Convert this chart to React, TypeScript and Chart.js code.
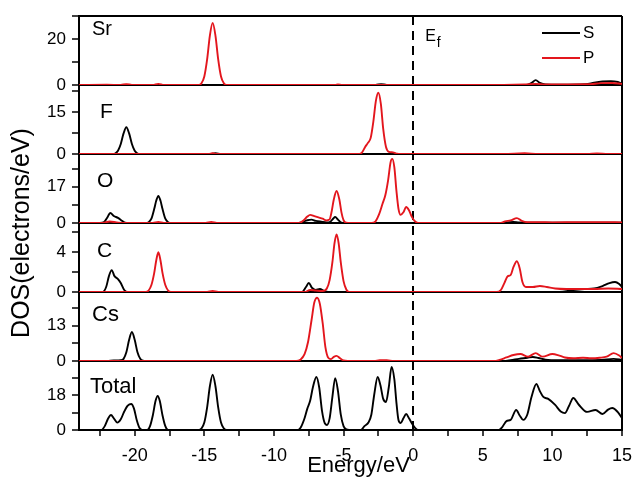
import React, { useEffect, useRef } from 'react';
import { Chart, registerables } from 'chart.js';

Chart.register(...registerables);

type Pt = [number, number];

const FONT = '"Liberation Sans", Arial, Helvetica, sans-serif';

// ---------- axes ----------
const energyMin = -24;
const energyMax = 15;
const energyStep = 2.5;
const energyTickLabels = [-20, -15, -10, -5, 0, 5, 10, 15];
const fermiEnergy = 0;
const xTitle = 'Energy/eV';
const yTitle = 'DOS(electrons/eV)';

const panelNames = ['Sr', 'F', 'O', 'C', 'Cs', 'Total'];
const panelMax = [30, 24.8, 32.3, 6.95, 25.4, 35.5];
const panelStep = [10, 7.5, 8.5, 2, 6.5, 9];
const panelTickLabels = [[0, 20], [0, 15], [0, 17], [0, 4], [0, 13], [0, 18]];

const orbitalNames = ['S', 'P'];

// ---------- data (energy eV, DOS) ----------
const srS: Pt[] = [[-24, 0], [-2.7, 0], [-2.3, 0.4], [-1.9, 0], [8.1, 0], [8.5, 0.9], [8.8, 2.1], [9.1, 0.9], [9.5, 0.2], [10.5, 0.1], [12.4, 0.3], [13.0, 1.0], [13.6, 1.5], [14.2, 1.7], [14.7, 1.3], [15, 0.6]];
const srP: Pt[] = [[-24, 0], [-22, 0.1], [-21.0, 0], [-20.6, 0.4], [-20.2, 0], [-18.7, 0], [-18.3, 0.5], [-17.9, 0], [-15.4, 0], [-15.2, 0.8], [-15.0, 3.7], [-14.8, 11], [-14.6, 21.5], [-14.4, 27], [-14.2, 21.5], [-14.0, 11], [-13.8, 3.7], [-13.6, 0.8], [-13.4, 0], [-5.6, 0], [-5.4, 0.2], [-5.1, 0], [6.5, 0], [8.0, 0.2], [8.8, 0.5], [9.5, 0.2], [12.5, 0.3], [13.5, 0.8], [14.3, 0.9], [15, 0.5]];

const fS: Pt[] = [[-24, 0], [-21.6, 0], [-21.4, 0.2], [-21.2, 1.2], [-21.0, 3.6], [-20.8, 7.4], [-20.6, 9.6], [-20.4, 7.4], [-20.2, 3.6], [-20.0, 1.2], [-19.8, 0.2], [-19.6, 0], [-14.6, 0], [-14.2, 0.3], [-13.8, 0], [15, 0]];
const fP: Pt[] = [[-24, 0], [-14.7, 0], [-14.4, 0.3], [-14.1, 0], [-4.0, 0], [-3.7, 0.4], [-3.45, 2.5], [-3.25, 4.0], [-3.05, 5.8], [-2.85, 12], [-2.68, 19], [-2.5, 22], [-2.32, 18], [-2.15, 9], [-1.95, 2.5], [-1.75, 0.8], [-1.45, 0.6], [-1.15, 0.1], [-0.9, 0], [6.5, 0], [8.0, 0.3], [9.0, 0], [12.5, 0], [13.2, 0.2], [14, 0], [15, 0]];

const oS: Pt[] = [[-24, 0], [-22.5, 0], [-22.2, 0.4], [-22.0, 2.2], [-21.75, 4.7], [-21.5, 3.3], [-21.2, 2.4], [-20.95, 1.2], [-20.7, 0.2], [-20.4, 0], [-19.2, 0], [-19.0, 0.4], [-18.8, 2.0], [-18.6, 6.5], [-18.45, 10.5], [-18.3, 12.7], [-18.15, 10.5], [-18.0, 6.5], [-17.8, 2.0], [-17.6, 0.4], [-17.4, 0], [-8.3, 0], [-8.0, 0.4], [-7.6, 1.3], [-7.3, 1.6], [-7.0, 1.0], [-6.6, 0.6], [-6.2, 0.3], [-5.95, 0.6], [-5.75, 2.0], [-5.6, 2.8], [-5.4, 1.6], [-5.2, 0.3], [-4.9, 0], [6.3, 0], [6.8, 0.3], [7.2, 0.5], [7.6, 0.2], [8.5, 0.1], [15, 0.1]];
const oP: Pt[] = [[-24, 0], [-22.3, 0], [-21.8, 0.7], [-21.3, 0.3], [-20.8, 0], [-18.7, 0], [-18.3, 0.5], [-17.9, 0], [-14.9, 0], [-14.5, 0.5], [-14.1, 0], [-8.2, 0], [-7.9, 1.0], [-7.6, 3.0], [-7.4, 3.8], [-7.1, 3.2], [-6.8, 2.6], [-6.5, 2.0], [-6.25, 1.2], [-6.0, 1.7], [-5.85, 5.5], [-5.7, 11], [-5.5, 15], [-5.3, 11], [-5.15, 5], [-5.0, 1.3], [-4.8, 0.1], [-4.5, 0], [-3.0, 0], [-2.7, 0.8], [-2.45, 4], [-2.2, 9], [-2.0, 13], [-1.8, 20], [-1.62, 28.5], [-1.5, 30], [-1.35, 26], [-1.2, 15], [-1.05, 6.5], [-0.9, 3.8], [-0.7, 5], [-0.5, 7.5], [-0.3, 6], [-0.1, 3], [0.1, 1], [0.35, 0], [6.3, 0], [6.6, 0.8], [7.0, 1.2], [7.45, 2.3], [7.8, 1.0], [8.2, 0.4], [9, 0.4], [10, 0.3], [12, 0.4], [13.5, 0.4], [15, 0.3]];

const cS: Pt[] = [[-24, 0], [-22.3, 0], [-22.05, 0.5], [-21.85, 1.6], [-21.65, 2.2], [-21.45, 1.6], [-21.2, 1.3], [-21.0, 0.9], [-20.75, 0.2], [-20.5, 0], [-8.0, 0], [-7.7, 0.5], [-7.5, 0.9], [-7.25, 0.4], [-7.0, 0.2], [-6.7, 0.3], [-6.4, 0.1], [-6.1, 0], [10.5, 0], [11.5, 0.2], [12.3, 0.3], [13.0, 0.35], [13.6, 0.6], [14.1, 0.9], [14.5, 1.0], [14.8, 0.8], [15, 0.5]];
const cP: Pt[] = [[-24, 0], [-19.2, 0], [-19.0, 0.15], [-18.8, 0.7], [-18.6, 1.9], [-18.45, 3.2], [-18.3, 4.0], [-18.15, 3.2], [-18.0, 1.9], [-17.8, 0.7], [-17.6, 0.15], [-17.4, 0], [-14.8, 0], [-14.4, 0.1], [-14.0, 0], [-7.8, 0], [-7.4, 0.2], [-7.0, 0.15], [-6.5, 0.1], [-6.2, 0.35], [-6.0, 1.2], [-5.8, 3.0], [-5.65, 4.9], [-5.5, 5.8], [-5.35, 4.9], [-5.2, 3.0], [-5.0, 1.1], [-4.8, 0.25], [-4.6, 0], [6.0, 0], [6.3, 0.2], [6.55, 0.9], [6.8, 1.6], [7.0, 1.7], [7.2, 2.5], [7.45, 3.1], [7.65, 2.4], [7.85, 1.0], [8.1, 0.5], [8.6, 0.5], [9.1, 0.6], [9.6, 0.5], [10.2, 0.35], [11, 0.3], [12, 0.3], [13, 0.3], [14, 0.35], [15, 0.3]];

const csS: Pt[] = [[-24, 0], [-22.0, 0], [-21.5, 0.2], [-21.0, 0.3], [-20.8, 0.8], [-20.6, 3.2], [-20.4, 7.8], [-20.2, 10.7], [-20.0, 7.8], [-19.8, 3.2], [-19.6, 0.8], [-19.4, 0.1], [-19.2, 0], [6.5, 0], [7.0, 0.3], [7.6, 0.8], [8.2, 1.2], [8.6, 1.5], [9.0, 1.1], [9.5, 0.5], [10.5, 0.3], [12, 0.3], [13.5, 0.4], [14.4, 0.8], [15, 0.4]];
const csP: Pt[] = [[-24, 0], [-8.4, 0], [-8.1, 0.5], [-7.8, 2.5], [-7.55, 7], [-7.3, 15], [-7.1, 21.5], [-6.9, 23.3], [-6.7, 21], [-6.5, 14], [-6.3, 5], [-6.1, 1.2], [-5.9, 0.7], [-5.7, 1.5], [-5.5, 1.9], [-5.25, 1.0], [-5.0, 0.2], [-4.7, 0], [-2.8, 0], [-2.4, 0.3], [-1.9, 0.3], [-1.4, 0], [5.8, 0], [6.2, 0.4], [6.7, 1.3], [7.2, 2.2], [7.7, 2.6], [8.25, 1.6], [8.8, 2.9], [9.3, 1.6], [10.0, 2.6], [10.5, 2.0], [10.9, 1.3], [11.5, 1.0], [12.2, 1.2], [12.8, 1.0], [13.4, 1.2], [13.9, 1.6], [14.4, 2.9], [14.8, 2.0], [15, 1.1]];

const totalDOS: Pt[] = [[-24, 0], [-22.4, 0], [-22.15, 2], [-21.9, 6], [-21.7, 7.7], [-21.5, 6], [-21.25, 3.8], [-21.0, 5.5], [-20.75, 9.5], [-20.5, 12.5], [-20.25, 13.4], [-20.05, 11], [-19.85, 5], [-19.65, 1], [-19.45, 0], [-19.1, 0], [-18.9, 2], [-18.7, 7.5], [-18.5, 15], [-18.35, 17.5], [-18.2, 15], [-18.0, 7.5], [-17.8, 2], [-17.6, 0], [-15.4, 0], [-15.2, 0.8], [-15.0, 3.8], [-14.8, 11.5], [-14.6, 22.5], [-14.4, 28.4], [-14.2, 22.5], [-14.0, 11.5], [-13.8, 3.8], [-13.6, 0.8], [-13.4, 0], [-8.3, 0], [-8.1, 1], [-7.85, 5], [-7.6, 11], [-7.4, 15], [-7.2, 22], [-6.95, 27.3], [-6.75, 22], [-6.55, 10], [-6.35, 3.5], [-6.2, 2.6], [-6.0, 6], [-5.8, 17], [-5.6, 26.7], [-5.4, 20], [-5.2, 8], [-5.0, 2], [-4.8, 0.3], [-4.6, 0], [-3.75, 0], [-3.5, 2.0], [-3.2, 4], [-3.0, 8], [-2.8, 18], [-2.55, 27.3], [-2.35, 23], [-2.15, 16], [-1.95, 14.4], [-1.75, 22], [-1.55, 32.4], [-1.35, 26], [-1.2, 14], [-1.05, 5], [-0.9, 3.6], [-0.7, 6], [-0.5, 8.2], [-0.3, 6], [-0.05, 3], [0.15, 1], [0.35, 0], [6.15, 0], [6.4, 1.5], [6.7, 4.6], [7.0, 5.2], [7.4, 10.3], [7.65, 7.5], [7.9, 5.2], [8.2, 8], [8.5, 17], [8.85, 23.7], [9.1, 20], [9.35, 17], [9.7, 16], [10.2, 12.9], [10.6, 9.5], [10.9, 8.7], [11.2, 12.5], [11.5, 16.5], [11.9, 13], [12.5, 9.3], [13.1, 10.3], [13.6, 8.2], [14.0, 10.5], [14.3, 11.3], [14.7, 9.2], [15, 6.2]];

const panelSeries: Pt[][][] = [[srS, srP], [fS, fP], [oS, oP], [cS, cP], [csS, csP], [totalDOS]];

// ---------- styles / layout ----------
const orbitalColors = ['#000000', '#e3161d'];
// [dx from plot left, dy (baseline) from panel top, font px]
const panelLabelLayout = [[13, 19, 20], [21, 33, 21], [18, 33, 21], [18, 34, 21], [13, 29, 22], [11, 32, 22]];

const annotations = {
  id: 'annotations',
  afterDraw(chart: any) {
    const ctx = chart.ctx as CanvasRenderingContext2D;
    const area = chart.chartArea;
    ctx.save();
    ctx.fillStyle = '#000';
    ctx.textAlign = 'left';
    ctx.textBaseline = 'alphabetic';
    panelNames.forEach((name, i) => {
      const sc = chart.scales['y' + i];
      const [dx, dy, fs] = panelLabelLayout[i];
      ctx.font = `${fs}px ${FONT}`;
      ctx.fillText(name, area.left + dx, sc.top + dy);
    });
    // Fermi label
    const xf = chart.scales.x.getPixelForValue(fermiEnergy);
    ctx.font = `16px ${FONT}`;
    ctx.fillText('E', xf + 12, area.top + 25);
    ctx.font = `14px ${FONT}`;
    ctx.fillText('f', xf + 23.5, area.top + 31);
    // legend
    orbitalNames.forEach((nm, i) => {
      const y = area.top + 17 + i * 25;
      ctx.strokeStyle = orbitalColors[i];
      ctx.lineWidth = 2;
      ctx.beginPath();
      ctx.moveTo(area.right - 80, y);
      ctx.lineTo(area.right - 42, y);
      ctx.stroke();
      ctx.font = `17px ${FONT}`;
      ctx.textBaseline = 'middle';
      ctx.fillText(nm, area.right - 39, y);
      ctx.textBaseline = 'alphabetic';
    });
    // x title
    ctx.textAlign = 'center';
    ctx.font = `22px ${FONT}`;
    ctx.fillText(xTitle, (area.left + area.right) / 2 + 8, area.bottom + 42);
    // y title
    ctx.translate(22, (area.top + area.bottom) / 2 + 10);
    ctx.rotate(-Math.PI / 2);
    ctx.textBaseline = 'middle';
    ctx.font = `25px ${FONT}`;
    ctx.fillText(yTitle, 0, 0);
    ctx.restore();
  },
};

function isLabelled(v: number, list: number[]) {
  return list.some((t) => Math.abs(t - v) < 1e-6);
}

export default function App() {
  const ref = useRef<HTMLCanvasElement>(null);
  useEffect(() => {
    Chart.defaults.font.family = FONT;
    Chart.defaults.color = '#000';

    const scales: any = {
      x: {
        type: 'linear',
        min: energyMin,
        max: energyMax,
        ticks: {
          stepSize: energyStep,
          includeBounds: false,
          autoSkip: false,
          maxRotation: 0,
          padding: 9,
          color: '#000',
          font: { size: 18, family: FONT },
          callback: (v: number) => (isLabelled(v, energyTickLabels) ? String(v) : ''),
        },
        grid: {
          color: (c: any) => (c.tick && (c.tick.value === fermiEnergy || c.tick.value === energyMax) ? '#000' : 'rgba(0,0,0,0)'),
          lineWidth: 2,
          tickLength: 6,
          tickColor: '#000',
          tickWidth: 1.5,
        },
        border: {
          display: true,
          color: '#000',
          width: 2,
          dash: (c: any) => (c.tick && c.tick.value === fermiEnergy ? [9, 6] : []),
        },
        afterFit: (s: any) => {
          s.height = 48;
          s.paddingLeft = 0;
          s.paddingRight = 0;
        },
      },
    };

    panelNames.forEach((name, i) => {
      const max = panelMax[i];
      scales['y' + i] = {
        type: 'linear',
        position: 'left',
        stack: 'dos',
        stackWeight: 1,
        weight: panelNames.length - i,
        min: 0,
        max,
        ticks: {
          stepSize: panelStep[i],
          includeBounds: false,
          autoSkip: false,
          padding: 6,
          color: '#000',
          font: { size: 17, family: FONT },
          callback: (v: number) => (isLabelled(v, panelTickLabels[i]) ? String(v) : ''),
        },
        grid: {
          color: (c: any) => (c.tick && (c.tick.value === 0 || Math.abs(c.tick.value - max) < 1e-6) ? '#000' : 'rgba(0,0,0,0)'),
          lineWidth: 2,
          tickLength: 7,
          tickColor: '#000',
          tickWidth: 1.5,
        },
        border: { display: true, color: '#000', width: 2 },
        afterFit: (s: any) => {
          s.width = 79;
          s.paddingTop = 0;
          s.paddingBottom = 0;
        },
      };
    });

    const datasets: any[] = [];
    panelSeries.forEach((series, i) => {
      series.forEach((pts, k) => {
        datasets.push({
          label: `${panelNames[i]} ${orbitalNames[k]}`,
          data: pts.map(([x, y]) => ({ x, y })),
          yAxisID: 'y' + i,
          xAxisID: 'x',
          borderColor: orbitalColors[k],
          backgroundColor: orbitalColors[k],
          borderWidth: 1.9,
          pointRadius: 0,
          fill: false,
          cubicInterpolationMode: 'monotone',
          order: k === 1 ? 0 : 1,
        });
      });
    });

    const chart = new Chart(ref.current as HTMLCanvasElement, {
      type: 'line',
      data: { datasets },
      options: {
        responsive: false,
        animation: false,
        devicePixelRatio: 1,
        events: [],
        layout: { padding: { top: 16, right: 12, left: 0, bottom: 0 } },
        plugins: { legend: { display: false }, tooltip: { enabled: false } },
        scales,
      },
      plugins: [annotations],
    } as any);
    return () => chart.destroy();
  }, []);

  return (
    <div style={{ position: 'fixed', left: 0, top: 0, width: 634, height: 478, background: '#fff' }}>
      <canvas ref={ref} width={634} height={478} style={{ display: 'block', width: 634, height: 478 }} />
    </div>
  );
}
